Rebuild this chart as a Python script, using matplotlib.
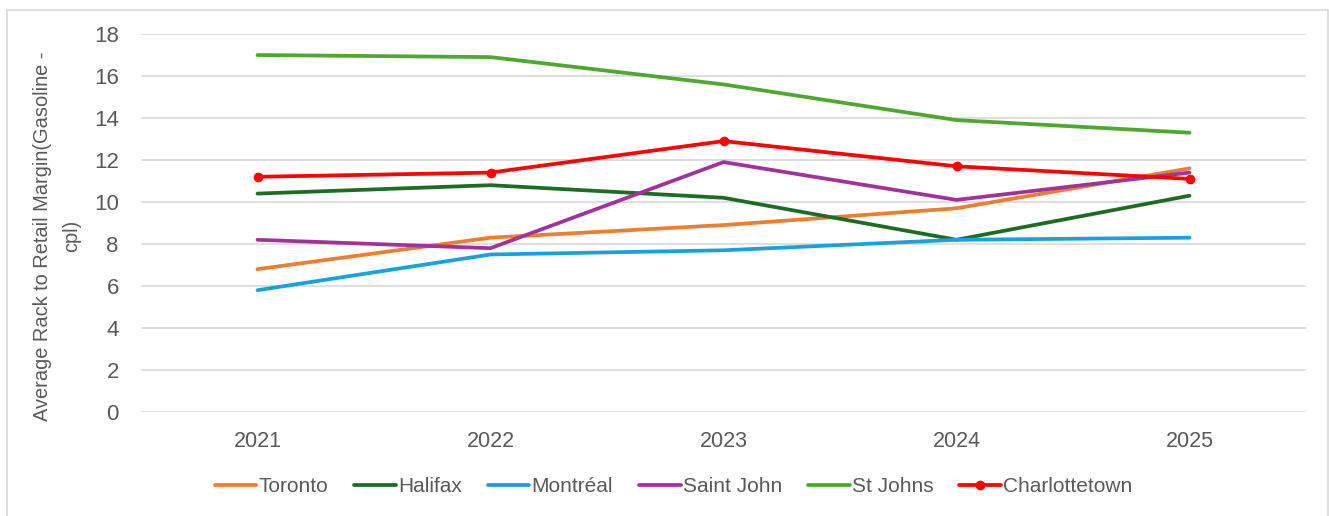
import matplotlib.pyplot as plt
from matplotlib.patches import Rectangle

years = ["2021", "2022", "2023", "2024", "2025"]

toronto = [6.8, 8.3, 8.9, 9.7, 11.6]
halifax = [10.4, 10.8, 10.2, 8.2, 10.3]
montreal = [5.8, 7.5, 7.7, 8.2, 8.3]
saint_john = [8.2, 7.8, 11.9, 10.1, 11.4]
st_johns = [17.0, 16.9, 15.6, 13.9, 13.3]
charlottetown = [11.2, 11.4, 12.9, 11.7, 11.1]

plt.rcParams['font.family'] = ['Liberation Sans', 'DejaVu Sans']

fig = plt.figure(figsize=(13.29, 5.16), dpi=100)
ax = fig.add_axes([0.1061, 0.2016, 0.8766, 0.7325])

# marco gris alrededor del gráfico
fig.patches.append(Rectangle((7 / 1329, -0.05), 1321 / 1329, 1.05 - 10 / 516,
                             transform=fig.transFigure, fill=False,
                             edgecolor="#D9D9D9", linewidth=1.2))

x = range(len(years))
lw = 2.7
ax.plot(x, toronto, color="#ED7D31", lw=lw, label="Toronto", solid_capstyle="round")
ax.plot(x, halifax, color="#1E6B24", lw=lw, label="Halifax", solid_capstyle="round")
ax.plot(x, montreal, color="#1AA1DB", lw=lw, label="Montréal", solid_capstyle="round")
ax.plot(x, saint_john, color="#A0339A", lw=lw, label="Saint John", solid_capstyle="round")
ax.plot(x, st_johns, color="#4EA72E", lw=lw, label="St Johns", solid_capstyle="round")
ax.plot(x, charlottetown, color="#FF0000", lw=lw, marker="o", markersize=6,
        label="Charlottetown", solid_capstyle="round")

ax.set_xlim(-0.5, 4.5)
ax.set_ylim(0, 18)
ax.set_yticks(range(0, 19, 2))
ax.set_xticks(list(x))
ax.set_xticklabels(years)
ax.yaxis.grid(True, color="#D9D9D9", linewidth=1.2)
ax.set_axisbelow(True)
for s in ax.spines.values():
    s.set_visible(False)
ax.tick_params(axis="y", length=0, labelsize=16, labelcolor="#595959", pad=16)
ax.tick_params(axis="x", length=0, labelsize=15.5, labelcolor="#595959", pad=14)

fig.text(57 / 1329, 1 - 236 / 516, "Average Rack to Retail Margin(Gasoline -\ncpl)",
         rotation=90, ha="center", va="center", fontsize=14.4, color="#595959",
         linespacing=1.65, multialignment="center")

leg = fig.legend(loc="center", bbox_to_anchor=(0.5 + 9 / 1329, 1 - 487 / 516), ncol=6,
                 frameon=False, handlelength=2.0, handletextpad=0.1,
                 columnspacing=1.25, labelcolor="#595959",
                 prop={"family": ["Liberation Sans", "DejaVu Sans"], "size": 15})

fig.savefig("out.png", dpi=100)
